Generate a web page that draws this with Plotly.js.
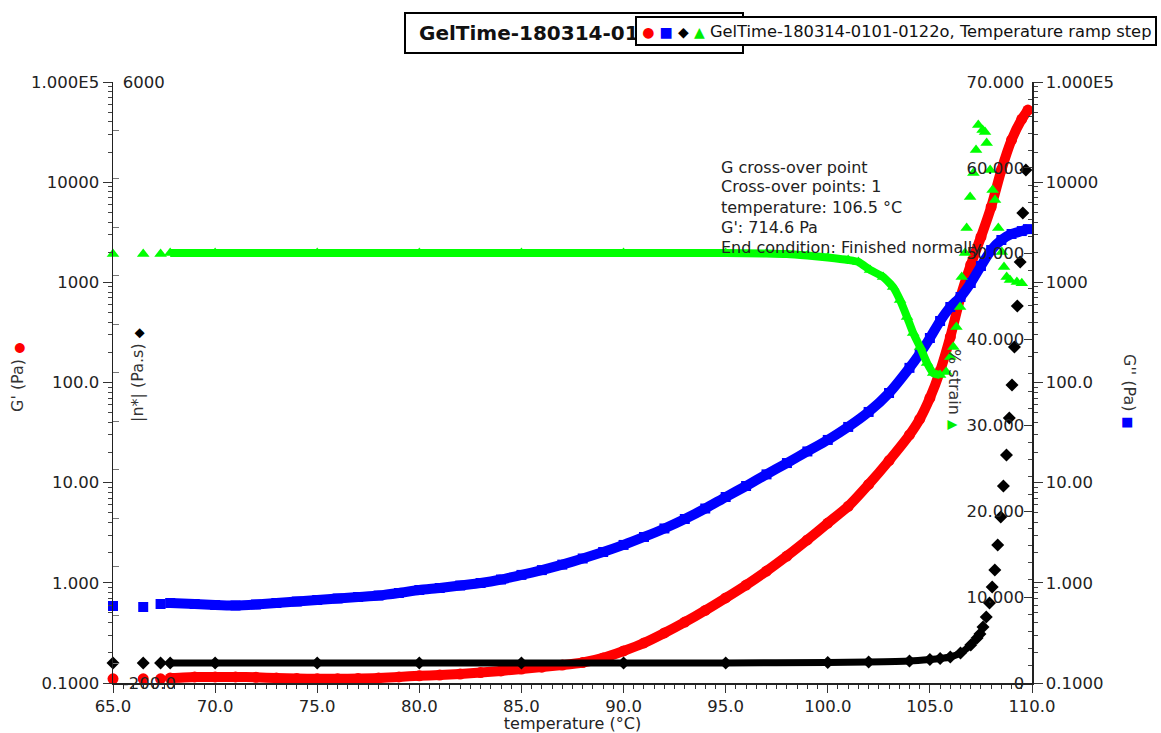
<!DOCTYPE html>
<html><head><meta charset="utf-8">
<script src="https://cdn.plot.ly/plotly-3.0.1.min.js"></script>
<style>html,body{margin:0;padding:0;background:#fff}#chart{width:1161px;height:733px}</style>
</head><body><div id="chart"></div>
<script>
// ---- data ----
const temperature = [65.0, 66.48, 67.33, 67.8, 69, 70, 71, 72, 73, 74, 75, 76, 77, 78, 79, 80, 81, 82, 83, 84, 85, 86, 87, 88, 89, 90, 91, 92, 93, 94, 95, 96, 97, 98, 99, 100, 101, 102, 103, 104, 104.5, 105, 105.5, 106, 106.5, 107, 107.5, 108, 108.5, 109, 109.5, 109.8];
const gPrime = [0.110, 0.110, 0.110, 0.112, 0.115, 0.115, 0.115, 0.114, 0.112, 0.111, 0.110, 0.110, 0.111, 0.112, 0.115, 0.118, 0.120, 0.123, 0.127, 0.132, 0.138, 0.144, 0.151, 0.160, 0.178, 0.209, 0.251, 0.316, 0.406, 0.53, 0.706, 0.95, 1.31, 1.85, 2.68, 3.95, 5.8, 9.6, 16.6, 30.0, 43.0, 70.0, 130, 285, 714.6, 1490, 2835, 5650, 13200, 26400, 42700, 52500];
const gDoublePrime = [0.587, 0.574, 0.615, 0.629, 0.615, 0.601, 0.594, 0.608, 0.629, 0.651, 0.674, 0.698, 0.722, 0.747, 0.792, 0.848, 0.888, 0.940, 0.996, 1.08, 1.20, 1.34, 1.52, 1.75, 2.03, 2.39, 2.87, 3.49, 4.34, 5.52, 7.19, 9.26, 12.1, 15.7, 20.5, 26.7, 36.0, 50.8, 78.6, 140, 193, 278, 411, 567, 714.6, 985, 1455, 2100, 2645, 3040, 3250, 3400];

const tempEta = [65.0, 66.48, 67.33, 67.8, 70, 75, 80, 85, 90, 95, 100, 102, 104, 105, 105.5, 106, 106.5, 107, 107.31, 107.45, 107.6, 107.76, 107.92, 108.05, 108.18, 108.32, 108.47, 108.6, 108.75, 108.89, 109.02, 109.14, 109.28, 109.42, 109.55, 109.7];
const etaStar = [6.3, 6.3, 6.3, 6.3, 6.3, 6.3, 6.3, 6.3, 6.3, 6.3, 11.5, 16.6, 27, 42.4, 52.7, 68.2, 109.5, 192, 264, 306, 378, 481, 625, 790, 966, 1224, 1513, 1832, 2152, 2534, 2874, 3266, 3689, 4143, 4649, 5092];

const tempStrain = [65.0, 66.48, 67.33, 67.8, 70, 75, 80, 85, 90, 95, 97, 98, 99, 100, 101, 101.5, 102.07, 102.71, 103.2, 103.54, 103.88, 104.18, 104.52, 104.86, 105.16, 105.5, 105.8, 106.0, 106.15, 106.3, 106.48, 106.56, 106.72, 106.8, 106.97, 107.13, 107.26, 107.37, 107.58, 107.7, 107.78, 107.95, 108.07, 108.19, 108.35, 108.52, 108.63, 108.76, 108.92, 109.26, 109.5];
const strain = [49.97, 49.97, 49.97, 50.08, 50.08, 50.08, 50.08, 50.08, 50.08, 50.08, 50.03, 49.97, 49.79, 49.56, 49.27, 49.04, 48.11, 47.29, 46.12, 44.61, 42.63, 40.77, 39.13, 37.27, 36.11, 35.87, 36.22, 37.97, 39.13, 41.46, 43.79, 47.29, 50.08, 52.99, 56.61, 59.40, 62.08, 64.99, 64.41, 64.18, 62.90, 59.75, 57.42, 56.25, 52.99, 50.20, 48.45, 47.29, 46.94, 46.71, 46.55];

const xTickVals = [65, 70, 75, 80, 85, 90, 95, 100, 105, 110];
const xTickText = ['65.0', '70.0', '75.0', '80.0', '85.0', '90.0', '95.0', '100.0', '105.0', '110.0'];
const logTickVals = [0.1, 1, 10, 100, 1000, 10000, 100000];
const logTickText = ['0.1000', '1.000', '10.00', '100.0', '1000', '10000', '1.000E5'];
const strainTickVals = [0, 10, 20, 30, 40, 50, 60, 70];
const strainTickText = ['0', '10.000', '20.000', '30.000', '40.000', '50.000', '60.000', '70.000'];
const etaTickVals = [-200, 6000];
const etaTickText = ['-200.0', '6000'];

// the title box is partly covered by the legend box in the reference; only this part is visible
const chartTitleVisible = 'GelTime-180314-01';
const legendText = 'GelTime-180314-0101-0122o, Temperature ramp step';
const noteLines = ['G cross-over point', 'Cross-over points: 1', 'temperature: 106.5 °C', "G': 714.6 Pa", 'End condition: Finished normally'];

// ---- rendering ----
const FONT = '"DejaVu Sans", Verdana, sans-serif';
const PL = 113, PR = 1032, PT = 82, PB = 683;
const px = x => (x - PL) / (PR - PL);
const py = y => (PB - y) / (PB - PT);

const logMinor = [];
for (let d = -1; d < 5; d++) for (let k = 2; k <= 9; k++) logMinor.push(k * Math.pow(10, d));

function band(xs, ys, s, e, color, w, ax) {
  return {x: xs.slice(s, e + 1), y: ys.slice(s, e + 1), yaxis: ax, mode: 'lines',
    line: {color: color, width: w, shape: 'spline', smoothing: 0.5}, hoverinfo: 'skip', cliponaxis: false};
}
function pts(xs, ys, symbol, color, size, ax) {
  return {x: xs, y: ys, yaxis: ax, mode: 'markers', marker: {symbol: symbol, color: color, size: size, line: {width: 0}}, cliponaxis: false};
}

const traces = [
  band(temperature, gPrime, 3, temperature.length - 1, '#ff0000', 10, 'y'),
  pts(temperature, gPrime, 'circle', '#ff0000', 11, 'y'),
  band(temperature, gDoublePrime, 3, temperature.length - 1, '#0000ff', 10, 'y3'),
  pts(temperature, gDoublePrime, 'square', '#0000ff', 10, 'y3'),
  band(tempEta, etaStar, 3, 18, '#000000', 7, 'y2'),
  pts(tempEta, etaStar, 'diamond', '#000000', 10, 'y2'),
  band(tempStrain, strain, 3, 25, '#00ff00', 8, 'y4'),
  pts(tempStrain, strain, 'triangle-up', '#00ff00', 11, 'y4')
];

const TF = {size: 16.5, color: '#222', family: FONT};
const common = {showgrid: false, zeroline: false, tickfont: TF};

const annotations = [
  {xref: 'paper', yref: 'paper', x: px(417), y: py(33), xanchor: 'left', yanchor: 'middle', showarrow: false,
   text: '<b>' + chartTitleVisible + '</b>', font: {size: 20, family: FONT, color: '#111'}, align: 'left',
   width: 217, height: 30},
  {xref: 'paper', yref: 'paper', x: px(635), y: py(16), xanchor: 'left', yanchor: 'top', showarrow: false,
   text: '&nbsp;<span style="color:#ff0000;font-size:14px">●</span> <span style="color:#0000ff;font-size:14px">■</span> <span style="color:#000;font-size:14px">◆</span> <span style="color:#00ee00;font-size:14px">▲</span> ' + legendText,
   font: {size: 16.3, family: FONT, color: '#111'}, align: 'left',
   bgcolor: '#fff', bordercolor: '#000', borderwidth: 2, borderpad: 0, width: 518, height: 26},
  {xref: 'paper', yref: 'paper', x: px(17), y: py(377), xanchor: 'center', yanchor: 'middle', showarrow: false, textangle: -90,
   text: "G' (Pa) <span style=\"color:#ff0000;font-size:13px\">●</span>", font: {size: 16, family: FONT, color: '#333'}},
  {xref: 'paper', yref: 'paper', x: px(137), y: py(375), xanchor: 'center', yanchor: 'middle', showarrow: false, textangle: -90,
   text: '|n*| (Pa.s) <span style="color:#000;font-size:13px">◆</span>', font: {size: 16, family: FONT, color: '#333'}},
  {xref: 'paper', yref: 'paper', x: px(955), y: py(389), xanchor: 'center', yanchor: 'middle', showarrow: false, textangle: 90,
   text: '% strain <span style="color:#00ee00;font-size:13px">▲</span>', font: {size: 16, family: FONT, color: '#333'}},
  {xref: 'paper', yref: 'paper', x: px(1130), y: py(391), xanchor: 'center', yanchor: 'middle', showarrow: false, textangle: 90,
   text: 'G\'\' (Pa) <span style="color:#0000ff;font-size:13px">■</span>', font: {size: 16, family: FONT, color: '#333'}}
];
noteLines.forEach((t, i) => annotations.push({xref: 'paper', yref: 'paper', x: px(719), y: py(167 + 20 * i),
  xanchor: 'left', yanchor: 'middle', showarrow: false, text: t, font: {size: 16, family: FONT, color: '#222'}, align: 'left'}));

const layout = {
  width: 1161, height: 733,
  margin: {l: PL, r: 1161 - PR, t: PT, b: 733 - PB},
  paper_bgcolor: '#fff', plot_bgcolor: '#fff', showlegend: false,
  font: {family: FONT, size: 16, color: '#222'},
  xaxis: Object.assign({}, common, {range: [65, 110], tickmode: 'array', tickvals: xTickVals, ticktext: xTickText,
    ticks: 'outside', ticklen: 8, tickcolor: '#333', showline: true, linecolor: '#222', linewidth: 1.5,
    minor: {tick0: 65, dtick: 0.5, ticks: 'outside', ticklen: 4, tickcolor: '#333'},
    title: {text: 'temperature (°C)', font: {size: 16, color: '#222', family: FONT}, standoff: 0}}),
  yaxis: Object.assign({}, common, {type: 'log', range: [-1, 5], tickmode: 'array', tickvals: logTickVals, ticktext: logTickText,
    ticks: 'outside', ticklen: 9, tickcolor: '#333', showline: true, linecolor: '#222', linewidth: 1.5,
    minor: {tickmode: 'array', tickvals: logMinor, ticks: 'outside', ticklen: 4, tickcolor: '#444'}}),
  yaxis2: Object.assign({}, common, {overlaying: 'y', anchor: 'x', side: 'left', range: [-200, 6000],
    tickmode: 'array', tickvals: etaTickVals, ticktext: etaTickText, ticks: 'inside', ticklen: 10, tickcolor: '#333',
    ticklabelposition: 'inside', ticklabeloverflow: 'allow', showline: false,
    minor: {tick0: 0, dtick: 500, ticks: 'inside', ticklen: 6, tickcolor: '#777'}}),
  yaxis3: Object.assign({}, common, {overlaying: 'y', anchor: 'x', side: 'right', type: 'log', range: [-1, 5],
    tickmode: 'array', tickvals: logTickVals, ticktext: logTickText, ticks: 'outside', ticklen: 9, tickcolor: '#333',
    showline: true, linecolor: '#222', linewidth: 1.5,
    minor: {tickmode: 'array', tickvals: logMinor, ticks: 'outside', ticklen: 4, tickcolor: '#444'}}),
  yaxis4: Object.assign({}, common, {overlaying: 'y', anchor: 'x', side: 'right', range: [0, 70],
    tickmode: 'array', tickvals: strainTickVals, ticktext: strainTickText, ticks: 'inside', ticklen: 8, tickcolor: '#333',
    ticklabelposition: 'inside', ticklabeloverflow: 'allow', showline: false,
    minor: {tick0: 0, dtick: 2, ticks: 'inside', ticklen: 4, tickcolor: '#444'}}),
  shapes: [
    {type: 'rect', xref: 'paper', yref: 'paper', x0: px(405), x1: px(743), y0: py(53), y1: py(13),
     line: {color: '#000', width: 2}, fillcolor: '#fff', layer: 'above'}
  ],
  annotations: annotations
};

Plotly.newPlot('chart', traces, layout, {displayModeBar: false, staticPlot: true});
</script>
</body></html>
